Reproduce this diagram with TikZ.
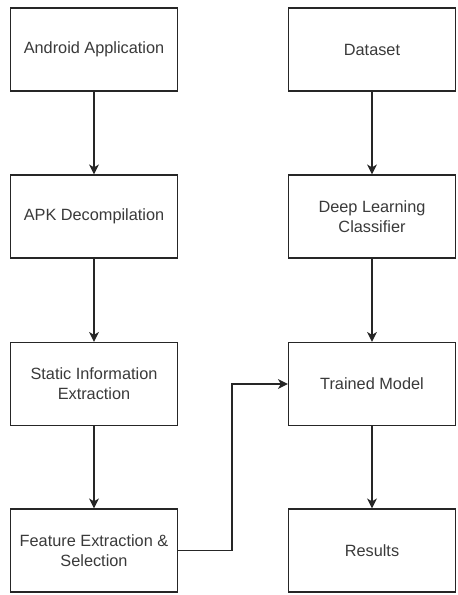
\documentclass[tikz,border=0pt]{standalone}
\usepackage{fontspec}
\setmainfont{Liberation Sans}
\usetikzlibrary{arrows.meta}

\definecolor{labelgray}{HTML}{3A3A3A}

\tikzset{
  stagebox/.style={draw=black!85, line width=1.2pt, fill=white,
    minimum width=167pt, minimum height=83pt, align=center,
    text=labelgray, font=\fontsize{16.3pt}{20pt}\selectfont},
  flow/.style={line width=1.3pt, draw=black!85,
    -{Stealth[length=10pt,width=10pt,inset=3pt]}}
}

\begin{document}
\begin{tikzpicture}[x=1pt,y=-1pt]
\useasboundingbox (0,0) rectangle (458,595);

% left column
\node[stagebox] (app)    at (94,49.5)  {Android Application};
\node[stagebox] (decomp) at (94,216.5) {APK Decompilation};
\node[stagebox] (static) at (94,384)   {Static Information\\Extraction};
\node[stagebox] (feat)   at (94,550.5) {Feature Extraction \&\\Selection};

% right column
\node[stagebox] (data)    at (372,49.5)  {Dataset};
\node[stagebox] (deep)    at (372,216.5) {Deep Learning\\Classifier};
\node[stagebox] (trained) at (372,384)   {Trained Model};
\node[stagebox] (results) at (372,550.5) {Results};

\draw[flow] (app) -- (decomp);
\draw[flow] (decomp) -- (static);
\draw[flow] (static) -- (feat);
\draw[flow] (data) -- (deep);
\draw[flow] (deep) -- (trained);
\draw[flow] (trained) -- (results);

\coordinate (bend) at (232,550.5);
\draw[flow] (feat.east) -- (bend) |- (trained.west);
\end{tikzpicture}
\end{document}
